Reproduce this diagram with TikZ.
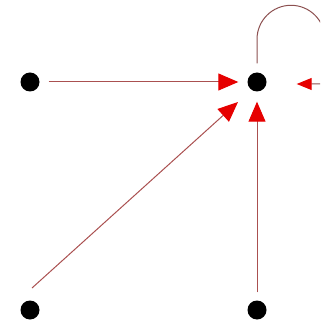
\documentclass[tikz,border=0pt]{standalone}
\usetikzlibrary{arrows.meta,calc}
\definecolor{lineRed}{RGB}{170,80,80}
\definecolor{loopLine}{RGB}{140,80,80}
\definecolor{tipRed}{RGB}{230,0,0}
\begin{document}
\begin{tikzpicture}[x=1pt,y=-1pt,
  dot/.style={circle,fill=black,inner sep=0pt,minimum size=19pt},
  edge/.style={draw=lineRed,line width=1pt,
    -{Triangle[length=20pt,width=17pt,color=tipRed,fill=tipRed]}},
  smalledge/.style={draw=loopLine,line width=1pt,
    -{Triangle[length=15pt,width=12pt,color=tipRed,fill=tipRed]}}]
\useasboundingbox (0,0) rectangle (320,328);
\clip (0,0) rectangle (320,328);
\node[dot] (a) at (30,82) {};
\node[dot] (c) at (257,82) {};
\node[dot] (b) at (30,310) {};
\node[dot] (d) at (257,310) {};
\draw[edge,shorten <=9pt,shorten >=9pt] (a) -- (c);
\draw[edge] ($(b)+(2,-22)$) -- ($(c)+(-19,20)$);
\draw[edge,shorten <=8pt,shorten >=10pt] (d) -- (c);
\draw[smalledge] ($(c.north)+(0,-9)$) -- ++(0,-24)
  arc[start angle=180,end angle=360,radius=34] -- (325,84)
  -- ($(c.east)+(30,2)$);
\end{tikzpicture}
\end{document}
